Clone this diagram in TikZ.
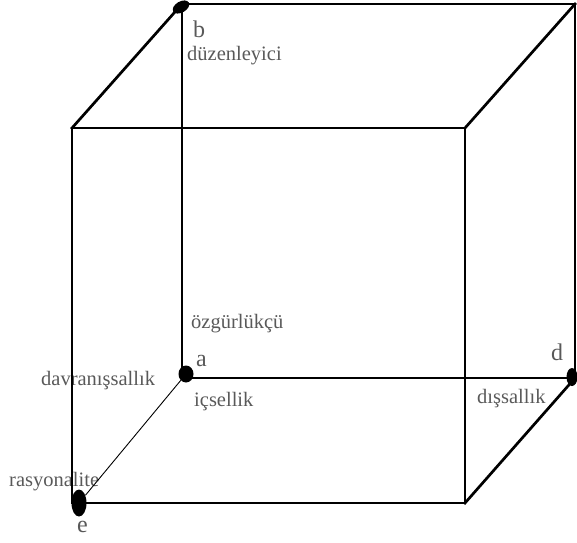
\documentclass[tikz,border=0pt]{standalone}
\usepackage{fontspec}
\setmainfont{Liberation Serif}
\usetikzlibrary{shapes.geometric, positioning}
\tikzset{
  kenar/.style={line width=2.7pt, line join=miter, line cap=rect},
  ince/.style={line width=1.5pt},
  nokta/.style={ellipse, fill=black, inner sep=0pt},
  etiket/.style={text=black!65, font=\fontsize{20.5}{22}\selectfont, inner sep=0pt, anchor=west},
  harf/.style={text=black!65, font=\fontsize{24}{26}\selectfont, inner sep=0pt, anchor=west},
}
\begin{document}
\begin{tikzpicture}[x=1pt, y=-1pt]
  \useasboundingbox (0,0) rectangle (577,542);
  % kupun koseleri
  \coordinate (on1) at (72,128);
  \coordinate (on2) at (465,128);
  \coordinate (on3) at (465,503);
  \coordinate (on4) at (72,503);
  \coordinate (arka1) at (182,4);
  \coordinate (arka2) at (575,4);
  \coordinate (arka3) at (575,378);
  \coordinate (arka4) at (182,378);
  % etiketler
  \node[harf] (lb) at (193,29) {b};
  \node[etiket] (duz) at (187,56) {düzenleyici};
  \node[etiket] (ozg) at (191,324) {özgürlükçü};
  \node[harf] (la) at (196,361) {a};
  \node[etiket] (ics) at (194,402) {içsellik};
  \node[harf] (ld) at (551,352) {d};
  \node[etiket] (dis) at (477,399) {dışsallık};
  \node[etiket] (dav) at (41,381) {davranışsallık};
  \node[etiket] (ras) at (9,482) {rasyonalite};
  \node[harf] (le) at (77,527) {e};
  % ic eksenler
  \draw[ince] (arka1) -- (arka4) -- (arka3);
  % noktalar
  \node[nokta, minimum width=15pt, minimum height=17pt] (a) at (186,374) {};
  \node[nokta, minimum width=18pt, minimum height=11pt, rotate=30] (b) at (181,7) {};
  \node[nokta, minimum width=11pt, minimum height=18pt] (d) at (572,377) {};
  \node[nokta, minimum width=15pt, minimum height=27pt] (e) at (79,503) {};
  \draw[line width=0.9pt] (a) -- (e);
  % kup
  \draw[kenar] (on1) rectangle (on3);
  \draw[kenar] (arka1) -- (arka2) -- (arka3);
  \draw[kenar] (on1) -- (arka1);
  \draw[kenar] (on2) -- (arka2);
  \draw[kenar] (on3) -- (arka3);
\end{tikzpicture}
\end{document}
